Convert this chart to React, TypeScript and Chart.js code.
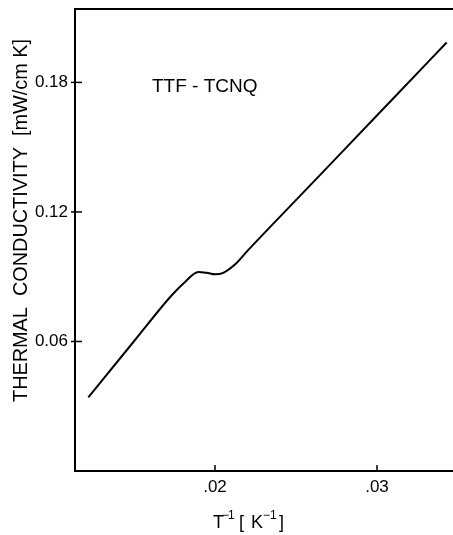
import React, { useEffect, useRef } from "react";
import { Chart, registerables } from "chart.js";

Chart.register(...registerables);

// Data (TTF-TCNQ thermal conductivity vs 1/T)
const invTemperature = [0.01218, 0.01500, 0.01733, 0.01815, 0.01897, 0.01949, 0.02, 0.02051, 0.02123, 0.02196, 0.02504, 0.02813, 0.03122, 0.0343];
const conductivity = [0.0341, 0.0601, 0.0814, 0.0876, 0.0922, 0.0918, 0.0911, 0.0918, 0.0956, 0.1016, 0.1258, 0.15, 0.1743, 0.1985];

const xTicks = [0.02, 0.03];
const xTickLabels = [".02", ".03"];
const yTicks = [0.06, 0.12, 0.18];
const yTickLabels = ["0.06", "0.12", "0.18"];

const xMin = 0.011358;
const xMax = 0.034691;
const yMin = 0;
const yMax = 0.214;

const seriesLabel = "TTF - TCNQ";
const yTitle = "THERMAL  CONDUCTIVITY  [mW/cm K]";

const FONT = "'Liberation Sans', Arial, sans-serif";

const decorPlugin = {
  id: "decor",
  afterDraw(chart: any) {
    const { ctx, chartArea, scales } = chart;
    const xs = scales.x;
    const ys = scales.y;
    ctx.save();
    ctx.strokeStyle = "#000";
    ctx.fillStyle = "#000";
    // top frame line
    ctx.lineWidth = 2;
    ctx.beginPath();
    ctx.moveTo(chartArea.left - 1, chartArea.top);
    ctx.lineTo(chartArea.right, chartArea.top);
    ctx.stroke();
    // inward tick marks
    ctx.lineWidth = 1.5;
    yTicks.forEach((v) => {
      const py = ys.getPixelForValue(v);
      ctx.beginPath();
      ctx.moveTo(chartArea.left - 4, py);
      ctx.lineTo(chartArea.left + 7, py);
      ctx.stroke();
    });
    xTicks.forEach((v) => {
      const px = xs.getPixelForValue(v);
      ctx.beginPath();
      ctx.moveTo(px, chartArea.bottom);
      ctx.lineTo(px, chartArea.bottom - 6);
      ctx.stroke();
    });
    // annotation
    ctx.font = `19px ${FONT}`;
    ctx.textAlign = "left";
    ctx.textBaseline = "alphabetic";
    ctx.fillText(seriesLabel, 152, 92);
    // y title (rotated)
    ctx.save();
    ctx.translate(27, 220.5);
    ctx.rotate(-Math.PI / 2);
    ctx.font = `20px ${FONT}`;
    ctx.textAlign = "center";
    ctx.fillText(yTitle, 0, 0, 363);
    ctx.restore();
    // x title: T^-1 [ K^-1]
    const base = 528;
    const big = `18px ${FONT}`;
    const small = `12px ${FONT}`;
    ctx.textAlign = "left";
    ctx.font = big;
    ctx.fillText("T", 213, base);
    ctx.font = small;
    ctx.fillText("\u2212", 222, base - 9);
    ctx.fillText("1", 228, base - 9);
    ctx.font = big;
    ctx.fillText("[", 239, base);
    ctx.fillText("K", 251, base);
    ctx.font = small;
    ctx.fillText("\u2212", 263, base - 9);
    ctx.fillText("1", 270, base - 9);
    ctx.font = big;
    ctx.fillText("]", 279, base);
    ctx.restore();
  },
};

export default function App() {
  const canvasRef = useRef<HTMLCanvasElement | null>(null);

  useEffect(() => {
    const canvas = canvasRef.current;
    if (!canvas) return;
    const points = invTemperature.map((xv, i) => ({ x: xv, y: conductivity[i] }));
    const chart = new Chart(canvas, {
      type: "scatter",
      data: {
        datasets: [
          {
            label: seriesLabel,
            data: points,
            showLine: true,
            borderColor: "#000",
            borderWidth: 2,
            pointRadius: 0,
            cubicInterpolationMode: "monotone",
            fill: false,
          } as any,
        ],
      },
      options: {
        animation: false,
        responsive: false,
        maintainAspectRatio: false,
        layout: { padding: { top: 9, right: 0, left: 0, bottom: 0 } },
        plugins: { legend: { display: false }, tooltip: { enabled: false }, title: { display: false } },
        scales: {
          x: {
            type: "linear",
            min: xMin,
            max: xMax,
            afterBuildTicks: (axis: any) => {
              axis.ticks = xTicks.map((v) => ({ value: v }));
            },
            afterFit: (axis: any) => {
              axis.height = 64;
              axis.paddingLeft = 0;
              axis.paddingRight = 0;
            },
            ticks: {
              color: "#000",
              font: { family: FONT, size: 17 },
              padding: 6,
              autoSkip: false,
              maxRotation: 0,
              callback: (v: any) => {
                const i = xTicks.indexOf(Number(v));
                return i >= 0 ? xTickLabels[i] : "";
              },
            },
            grid: { display: true, drawOnChartArea: false, drawTicks: false },
            border: { display: true, color: "#000", width: 2 },
          },
          y: {
            type: "linear",
            min: yMin,
            max: yMax,
            afterBuildTicks: (axis: any) => {
              axis.ticks = yTicks.map((v) => ({ value: v }));
            },
            afterFit: (axis: any) => {
              axis.width = 75;
              axis.paddingTop = 0;
              axis.paddingBottom = 0;
            },
            ticks: {
              color: "#000",
              font: { family: FONT, size: 17 },
              padding: 7,
              autoSkip: false,
              callback: (v: any) => {
                const i = yTicks.indexOf(Number(v));
                return i >= 0 ? yTickLabels[i] : "";
              },
            },
            grid: { display: true, drawOnChartArea: false, drawTicks: false },
            border: { display: true, color: "#000", width: 2 },
          },
        },
      },
      plugins: [decorPlugin],
    });
    return () => chart.destroy();
  }, []);

  return (
    <div style={{ position: "absolute", left: 0, top: 0, width: 453, height: 535, background: "#fff" }}>
      <canvas ref={canvasRef} width={453} height={535} style={{ display: "block" }} />
    </div>
  );
}
